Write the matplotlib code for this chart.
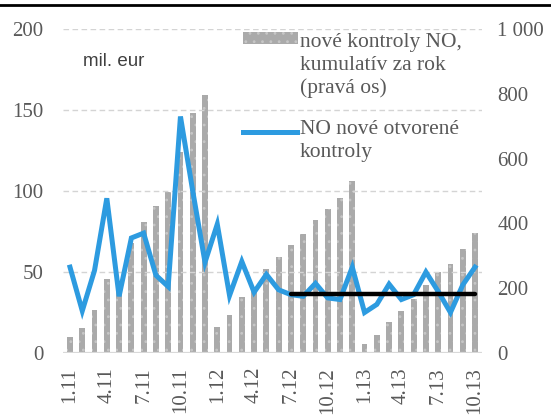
import matplotlib
matplotlib.use("Agg")
import matplotlib.pyplot as plt
from matplotlib.lines import Line2D
from matplotlib.patches import Rectangle

# mesiace 1.11 .. 10.13
months = [f"{m}.{y}" for y in (11, 12, 13) for m in range(1, 13)][:34]
tick_labels = ["1.11", "4.11", "7.11", "10.11", "1.12", "4.12",
               "7.12", "10.12", "1.13", "4.13", "7.13", "10.13"]

# NO nove otvorene kontroly (mil. eur, lava os)
nove_otvorene = [53, 26, 51, 95.5, 35, 71, 74, 48, 41, 146, 100, 56,
                 79.5, 35.5, 56.5, 37.5, 48.5, 39, 36, 35, 43, 34, 33, 53,
                 25, 30, 42.5, 33, 36, 50, 38, 25, 42, 53]

# nove kontroly NO, kumulativ za rok (prava os)
kumulativ = [50, 78, 132, 227, 220, 338, 404, 454, 497, 620, 742, 796,
             79, 116, 172, 200, 258, 297, 333, 367, 410, 444, 477, 532,
             27, 56, 97, 131, 166, 210, 251, 275, 320, 371]

# priemer od 7.12
priemer = 36.3
priemer_od = 18

x = list(range(len(months)))
serif = "Liberation Serif"
grey_txt = "#595959"
bar_face = "#aaaaaa"
bar_hatch = "#c6c6c6"
blue = "#2d9be0"

fig = plt.figure(figsize=(5.51, 4.16), dpi=100)
ax = fig.add_axes([63 / 551, 1 - 353 / 416, (482 - 63) / 551, (353 - 29) / 416])
ax2 = ax.twinx()

# stlpce na pravej osi, ciara na lavej (nad stlpcami)
ax.set_zorder(ax2.get_zorder() + 1)
ax.patch.set_visible(False)

plt.rcParams["hatch.linewidth"] = 0.8
ax2.bar(x, kumulativ, width=0.48, color=bar_face, edgecolor=bar_hatch,
        hatch="..", linewidth=0)
ax2.set_ylim(0, 1000)
ax2.set_yticks(range(0, 1001, 200))
ax2.set_yticklabels(["0", "200", "400", "600", "800", "1 000"])

ax.plot(x, nove_otvorene, color=blue, linewidth=3.6, solid_joinstyle="miter")
ax.plot(x[priemer_od:], [priemer] * len(x[priemer_od:]), color="black", linewidth=3.2,
        solid_capstyle="round")
ax.set_ylim(0, 200)
ax.set_xlim(-0.57, 33.57)
ax.set_yticks(range(0, 201, 50))
ax.set_xticks(x[::3])
ax.set_xticklabels(tick_labels, rotation=90)

# mriezka
ax2.grid(False)
for v in range(50, 201, 50):
    ax.axhline(v, color="#d4d4d4", linewidth=1.0, linestyle=(0, (4, 2.5)), zorder=0)
ax.axhline(0, color="#d9d9d9", linewidth=1.6, zorder=1)

for a in (ax, ax2):
    for s in a.spines.values():
        s.set_visible(False)
    a.tick_params(length=0, labelsize=15, labelcolor=grey_txt)
    for lab in a.get_xticklabels() + a.get_yticklabels():
        lab.set_fontfamily(serif)
ax.tick_params(axis="y", pad=14)
ax2.tick_params(axis="y", pad=11)
ax.tick_params(axis="x", pad=10)

ax.text(83 / 551, 1 - 62 / 416, "mil. eur", transform=fig.transFigure,
        fontsize=13.5, color="#404040", family="Liberation Sans", va="center")

# legenda
fig.add_artist(Rectangle((243 / 551, 1 - 44 / 416), 55 / 551, 12 / 416,
                         transform=fig.transFigure, facecolor=bar_face,
                         edgecolor=bar_hatch, hatch="..", linewidth=0))
fig.add_artist(Line2D([243 / 551, 297 / 551], [1 - 132 / 416, 1 - 132 / 416],
                      transform=fig.transFigure, color=blue, linewidth=3.6))
fig.text(300 / 551, 1 - 33 / 416, "nové kontroly NO,\nkumulatív za rok\n(pravá os)",
         fontsize=15.5, family=serif, color=grey_txt, va="top", linespacing=1.25)
fig.text(300 / 551, 1 - 120 / 416, "NO nové otvorené\nkontroly",
         fontsize=15.5, family=serif, color=grey_txt, va="top", linespacing=1.25)

# horna ciara
fig.add_artist(Line2D([0, 1], [1 - 5 / 416, 1 - 5 / 416], transform=fig.transFigure,
                      color="black", linewidth=2))

fig.savefig("out.png", dpi=100)
